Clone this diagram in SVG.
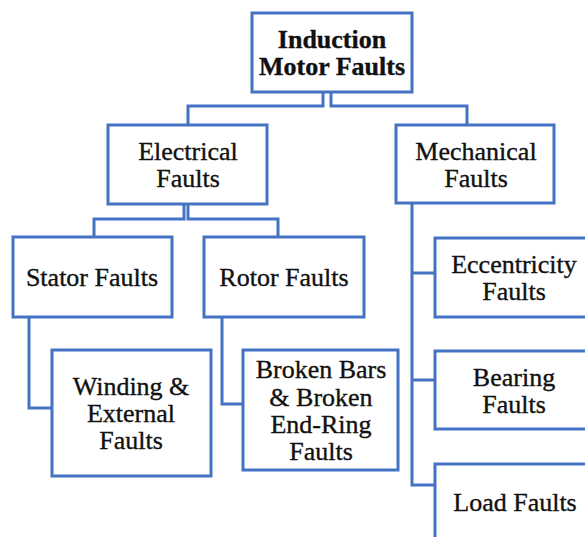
<svg xmlns="http://www.w3.org/2000/svg" width="585" height="537" viewBox="0 0 585 537">
<style>
rect{fill:#fff;stroke:#4472C4;stroke-width:3}
.c path{fill:none;stroke:#4472C4;stroke-width:3}
text{font-family:"Liberation Serif","Times New Roman",serif;font-size:26px;fill:#111;stroke:#111;stroke-width:0.35;text-anchor:middle}
.b{font-weight:bold}
</style>
<rect x="0" y="0" width="585" height="537" style="stroke:none"/>
<g class="c" id="connectors">
<path d="M323,92 V106 H188 V125"/>
<path d="M331,92 V106 H467 V125"/>
<path d="M184,204 V219 H94 V237"/>
<path d="M188,204 V219 H278 V237"/>
<path d="M412,203 V485 H435"/>
<path d="M412,273 H435"/>
<path d="M412,380 H435"/>
<path d="M29,317 V408 H52"/>
<path d="M222,317 V404 H243"/>
</g>
<g id="root"><rect x="252" y="13" width="160" height="79"/><text class="b" x="332" y="48">Induction</text><text class="b" x="332" y="75">Motor Faults</text></g>
<g id="electrical"><rect x="108" y="125" width="159" height="79"/><text x="188" y="160">Electrical</text><text x="188" y="187">Faults</text></g>
<g id="mechanical"><rect x="396" y="125" width="158" height="78"/><text x="476" y="160">Mechanical</text><text x="476" y="187">Faults</text></g>
<g id="stator"><rect x="13" y="237" width="159" height="80"/><text x="92" y="286">Stator Faults</text></g>
<g id="rotor"><rect x="204" y="237" width="160" height="80"/><text x="284" y="286">Rotor Faults</text></g>
<g id="winding"><rect x="52" y="350" width="159" height="126"/><text x="131" y="395">Winding &amp;</text><text x="131" y="422">External</text><text x="131" y="449">Faults</text></g>
<g id="broken"><rect x="243" y="350" width="155" height="120"/><text x="321" y="378">Broken Bars</text><text x="321" y="406">&amp; Broken</text><text x="321" y="433">End-Ring</text><text x="321" y="460">Faults</text></g>
<g id="eccentricity"><rect x="435" y="238" width="160" height="79"/><text x="514" y="273">Eccentricity</text><text x="514" y="300">Faults</text></g>
<g id="bearing"><rect x="435" y="351" width="160" height="78"/><text x="514" y="386">Bearing</text><text x="514" y="413">Faults</text></g>
<g id="load"><rect x="435" y="464" width="160" height="90"/><text x="515" y="511">Load Faults</text></g>
</svg>
